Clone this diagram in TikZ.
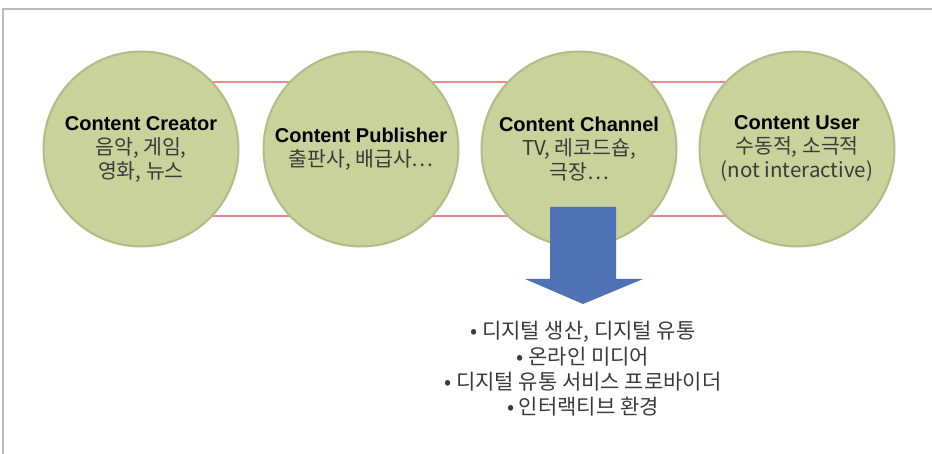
\documentclass[tikz,border=0pt]{standalone}
\usepackage{fontspec}
\setmainfont{Liberation Sans}
\newfontfamily\kofont{Noto Sans CJK KR}
\newfontfamily\titlefont{Liberation Sans}
\definecolor{circfill}{HTML}{C9D29A}
\definecolor{circline}{HTML}{B2BC86}
\definecolor{pinkline}{HTML}{EE8790}
\definecolor{arrowblue}{HTML}{4F71B5}
\definecolor{subgray}{HTML}{3A3A3A}
\definecolor{framegray}{HTML}{BBBBBB}
\tikzset{
  stage/.style={circle, fill=circfill, draw=circline, line width=2pt, minimum size=195pt, inner sep=0pt,
    align=center, font=\fontsize{20.5}{24}\selectfont},
  link/.style={draw=pinkline, line width=2.4pt},
}
\newcommand{\ttl}[1]{{\fontsize{20}{24}\selectfont\titlefont\bfseries #1}}
\newcommand{\sub}[1]{{\kofont\color{subgray}#1}}
\begin{document}
\begin{tikzpicture}[x=1pt,y=-1pt]
\useasboundingbox (0,0) rectangle (932,454);
\draw[framegray, line width=2pt] (3,460) -- (3,9) -- (940,9);
\coordinate (l1) at (141,82);
\coordinate (l2) at (797,82);
\coordinate (l3) at (141,216);
\coordinate (l4) at (797,216);
\draw[link] (l1) -- (l2);
\draw[link] (l3) -- (l4);
\node[stage] (c1) at (141,149) {\ttl{Content Creator}\\ \sub{음악, 게임,}\\ \sub{영화, 뉴스}};
\node[stage] (c2) at (361,149) {\ttl{Content Publisher}\\ \sub{출판사, 배급사⋯}};
\node[stage] (c3) at (579,149) {\ttl{Content Channel}\\ \sub{TV, 레코드숍,}\\ \sub{극장⋯}};
\node[stage] (c4) at (797,149) {\ttl{Content User}\\ \sub{수동적, 소극적}\\ \sub{(not interactive)}};
\fill[arrowblue] (550,207) -- (616,207) -- (616,279) -- (643,279) -- (583,304) -- (525,279) -- (550,279) -- cycle;
\node[align=center, font=\fontsize{21}{25.3}\selectfont\kofont, text=subgray] (list) at (583,369)
 {• 디지털 생산, 디지털 유통\\ • 온라인 미디어\\ • 디지털 유통 서비스 프로바이더\\ • 인터랙티브 환경};
\end{tikzpicture}
\end{document}
